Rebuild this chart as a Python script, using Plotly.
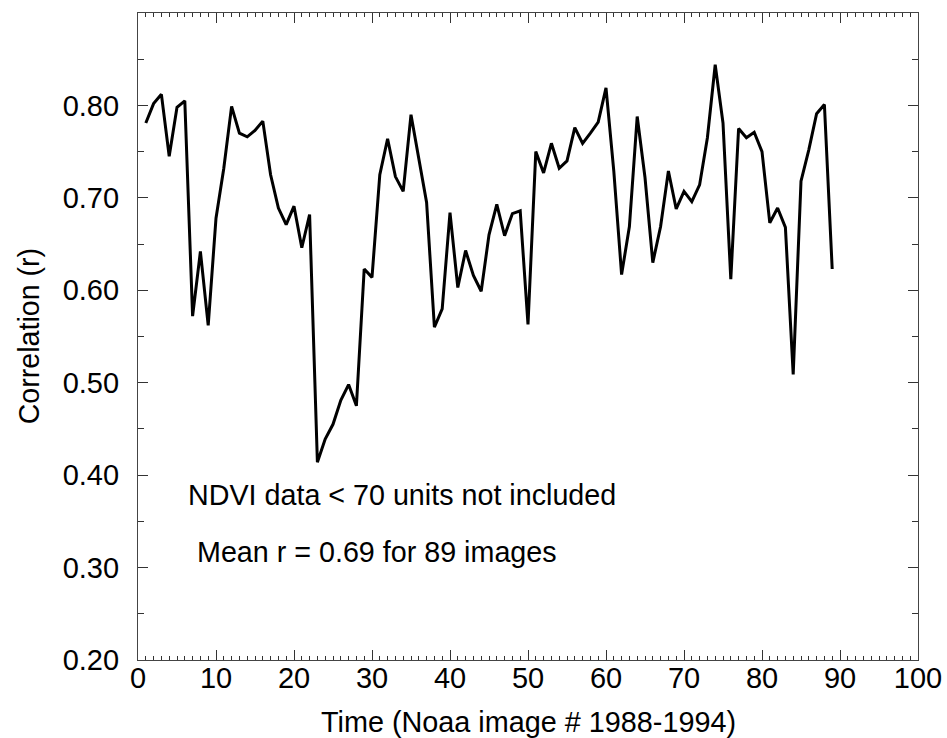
import plotly.graph_objects as go

# 이미지 번호 (1..89)
image_no = list(range(1, 90))

# 상관계수 r
corr_r = [
    0.781, 0.802, 0.812, 0.745, 0.798, 0.805, 0.572, 0.642, 0.562, 0.678,
    0.732, 0.799, 0.770, 0.766, 0.773, 0.783, 0.725, 0.689, 0.671, 0.691,
    0.646, 0.682, 0.414, 0.439, 0.455, 0.481, 0.498, 0.475, 0.623, 0.614,
    0.725, 0.764, 0.723, 0.707, 0.790, 0.743, 0.695, 0.560, 0.580, 0.684,
    0.603, 0.643, 0.616, 0.599, 0.660, 0.693, 0.659, 0.683, 0.686, 0.563,
    0.750, 0.727, 0.759, 0.732, 0.740, 0.776, 0.759, 0.770, 0.782, 0.819,
    0.729, 0.617, 0.669, 0.788, 0.722, 0.630, 0.669, 0.729, 0.688, 0.707,
    0.696, 0.714, 0.765, 0.844, 0.781, 0.612, 0.775, 0.765, 0.771, 0.750,
    0.673, 0.689, 0.668, 0.509, 0.718, 0.752, 0.791, 0.801, 0.623,
]

x_ticks = list(range(0, 101, 10))
y_ticks = [0.2, 0.3, 0.4, 0.5, 0.6, 0.7, 0.8]

notes = ["NDVI data < 70 units not included", "Mean r = 0.69 for 89 images"]

FONT = "Liberation Sans, Arial, sans-serif"
FS = 29

fig = go.Figure()
fig.add_trace(go.Scatter(
    x=image_no, y=corr_r, mode="lines",
    line=dict(color="black", width=3),
    showlegend=False,
))

axis_common = dict(
    showgrid=False, zeroline=False, automargin=False,
    showline=True, linecolor="#444", linewidth=1.2,
    mirror="allticks", ticks="inside", tickcolor="#333",
    tickwidth=1.2, ticklen=10,
    tickfont=dict(family=FONT, size=FS, color="black"),
)

fig.update_xaxes(
    range=[0, 100], tickvals=x_ticks,
    minor=dict(dtick=1, ticks="inside", ticklen=4, tickcolor="#333", tickwidth=1),
    ticklabelstandoff=-8,
    **axis_common,
)
fig.update_yaxes(
    range=[0.2, 0.9], tickvals=y_ticks, tickformat=".2f",
    minor=dict(dtick=0.05, ticks="inside", ticklen=6, tickcolor="#333", tickwidth=1),
    ticklabelstandoff=12,
    **axis_common,
)

# 축 제목
fig.add_annotation(
    text="Time (Noaa image # 1988-1994)", xref="paper", yref="paper",
    x=0.5, y=-0.096, xanchor="center", yanchor="middle", showarrow=False,
    font=dict(family=FONT, size=28.8, color="black"),
)
fig.add_annotation(
    text="Correlation (r)", xref="paper", yref="paper",
    x=-0.140, y=0.5, xanchor="center", yanchor="middle", textangle=-90,
    showarrow=False, font=dict(family=FONT, size=28.6, color="black"),
)

# 본문 메모
fig.add_annotation(
    text=notes[0], x=6.2, y=0.378, xanchor="left", yanchor="middle",
    showarrow=False, font=dict(family=FONT, size=28.7, color="black"),
)
fig.add_annotation(
    text=notes[1], x=7.3, y=0.317, xanchor="left", yanchor="middle",
    showarrow=False, font=dict(family=FONT, size=28.7, color="black"),
)

fig.update_layout(
    width=947, height=738,
    margin=dict(l=138, r=29, t=13, b=78),
    paper_bgcolor="white", plot_bgcolor="white",
)
# 페이지 기본 여백 제거, 모드바 숨김
fig.write_html(
    "out.html",
    config={"displayModeBar": False},
    post_script="document.body.style.margin='0';",
)
